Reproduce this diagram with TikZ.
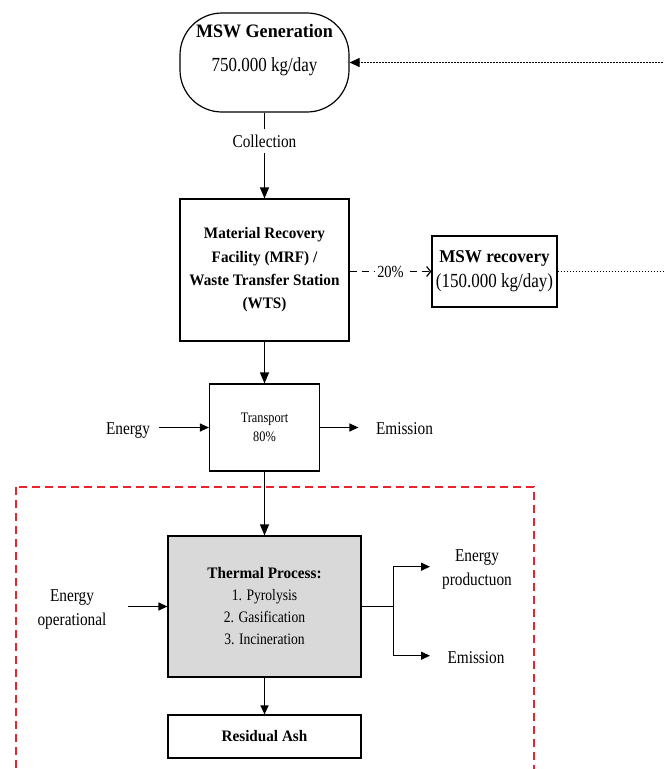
\documentclass[tikz,border=0pt]{standalone}
\usepackage{fontspec}
\setmainfont{Liberation Serif}[FakeStretch=0.85]
\newfontfamily\boldFont{Liberation Serif Bold}[FakeStretch=0.95]
\usetikzlibrary{arrows.meta}

\definecolor{thermColor}{RGB}{217,217,217}
\definecolor{frameColor}{RGB}{235,35,45}

\begin{document}
\begin{tikzpicture}[x=1pt,y=-1pt,line width=1.2pt,
  box/.style={draw,inner sep=0pt,align=center},
  flow/.style={-{Triangle[length=11pt,width=9pt]}},
  sideflow/.style={-{Triangle[length=9pt,width=8pt]}},
  lbl/.style={font=\fontsize{18}{23.3}\selectfont,align=center,inner sep=0pt}]
  \useasboundingbox (0,0) rectangle (664,769);
  \clip (0,0) rectangle (664,769);
  % Blocks
  \node[box,rounded corners=42pt,minimum width=169pt,minimum height=99pt,text height=23.3pt,font=\fontsize{20}{34}\selectfont] (mswGen) at (264.5,62.5) {{\boldFont\fontsize{19}{34}\selectfont MSW Generation}\\750.000 kg/day};
  \node[box,minimum width=169pt,minimum height=142pt,font=\boldFont\fontsize{16}{23.3}\selectfont] (mrfBox) at (264.5,270) {Material Recovery\\Facility (MRF) /\\Waste Transfer Station\\(WTS)};
  \node[box,minimum width=125pt,minimum height=71pt,font=\fontsize{20}{25}\selectfont] (mswRec) at (494.5,271.5) {{\boldFont\fontsize{18}{25}\selectfont MSW recovery}\\(150.000 kg/day)};
  \node[box,minimum width=110pt,minimum height=87pt,font=\fontsize{14.5}{19}\selectfont] (transBox) at (264.5,427.5) {Transport\\80\%};
  \node[box,fill=thermColor,minimum width=193pt,minimum height=141pt,font=\fontsize{16}{22}\selectfont] (thermBox) at (264.5,606.5) {{\boldFont Thermal Process:}\\1. Pyrolysis\\2. Gasification\\3. Incineration};
  \node[box,minimum width=193pt,minimum height=43pt,font=\boldFont\fontsize{16}{20}\selectfont] (ashBox) at (264.5,736.5) {Residual Ash};
  % Labels
  \node[lbl] (enTrans) at (128,431) {Energy};
  \node[lbl] (emTrans) at (404.5,429) {Emission};
  \node[lbl] (enOper) at (72,609.4) {Energy\\operational};
  \node[lbl] (enProd) at (477,569.4) {Energy\\productuon};
  \node[lbl] (emTherm) at (476,658) {Emission};
  \coordinate (split) at (393.3,606.5);
  \coordinate (prodIn) at (430,566.7);
  \coordinate (emisIn) at (430,655.7);
  % Main flow
  \draw[flow] (mswGen) -- node[pos=0.33,fill=white,inner sep=6pt,font=\fontsize{18}{20}\selectfont]{Collection} (mrfBox);
  \draw[flow] (mrfBox) -- (transBox);
  \draw[flow] (transBox) -- (thermBox);
  \draw[sideflow] (thermBox) -- (ashBox);
  % Recovery loop
  \draw[dash pattern=on 7pt off 5pt,-{Straight Barb[length=4pt,width=10pt]}] (mrfBox.east |- mswRec.west) -- node[fill=white,inner sep=2pt,font=\fontsize{17}{20}\selectfont]{20\%} (mswRec.west);
  \draw[line width=1.1pt,dash pattern=on 1.4pt off 1.6pt,-{Triangle[length=10pt,width=9pt]}] (mswRec.east) -- ++(140,0) |- (mswGen);
  % Inputs and outputs
  \draw[sideflow] ([xshift=8pt]enTrans.east |- transBox.west) -- (transBox.west);
  \draw[sideflow] (transBox.east) -- ([xshift=-17pt]emTrans.west |- transBox.east);
  \draw[sideflow] ([xshift=21pt]enOper.east |- thermBox.west) -- (thermBox.west);
  \draw (thermBox.east) -- (split);
  \draw[sideflow] (split) |- (prodIn);
  \draw[sideflow] (split) |- (emisIn);
  % Thermal frame
  \draw[frameColor,dash pattern=on 8pt off 5pt] (16,487) rectangle (534,800);
\end{tikzpicture}
\end{document}
